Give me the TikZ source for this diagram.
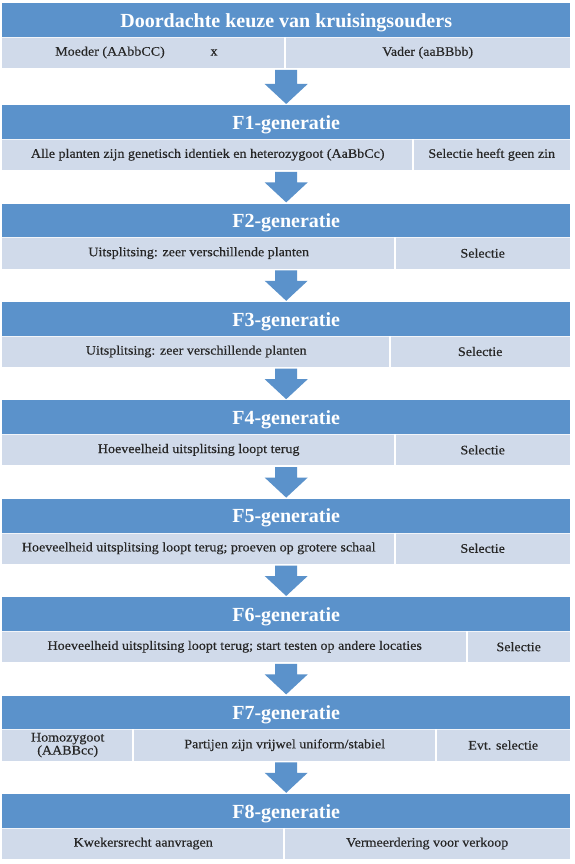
\documentclass[tikz,border=0pt]{standalone}
\usepackage{fontspec}
\setmainfont{Liberation Serif}
\newfontfamily\cellfont{Liberation Serif}[FakeStretch=1.08, FakeBold=0.4]
\usetikzlibrary{calc}
\definecolor{hblue}{RGB}{91,146,203}
\definecolor{lblue}{RGB}{208,218,234}
\definecolor{ctext}{RGB}{38,38,38}
\newcommand\blockarr[2]{%
  \path ($(#1)+(0,1.5)$) coordinate (ba1) ($(#2)+(0,-1)$) coordinate (ba2);
  \fill[hblue] ($(ba1)+(-11,0)$) -- ($(ba1)+(11,0)$) -- ($(ba2)+(11,-20)$) -- ($(ba2)+(21.5,-20)$) -- (ba2) -- ($(ba2)+(-21.5,-20)$) -- ($(ba2)+(-11,-20)$) -- cycle;}
\begin{document}
\begin{tikzpicture}[x=1pt,y=-1pt,
  hdr/.style={fill=hblue, text=white, font=\bfseries\fontsize{20}{22}\selectfont, anchor=north west, minimum width=568pt, minimum height=34pt, inner sep=0pt, text height=15pt, text depth=1pt},
  cell/.style={fill=lblue, text=ctext, font=\cellfont\fontsize{13}{14}\selectfont, anchor=north west, minimum height=31pt, inner sep=0pt, align=center},
  txt/.style={text=ctext, font=\cellfont\fontsize{13}{14}\selectfont, inner sep=0pt},
  sep/.style={draw=white, line width=1.2pt},
  hsep/.style={draw=white!70!lblue, line width=0.8pt}]
\useasboundingbox[fill=white] (0,0) rectangle (574,864);

% Block 0
\node[hdr] (h0) at (2,3) {Doordachte keuze van kruisingsouders};
\node[cell, minimum width=283pt] (s0a) at (2,37) {};
\node[cell, minimum width=285pt] (s0b) at (285,37) {Vader (aaBBbb)};
\node[txt] (t0m) at (110,52.5) {Moeder (AAbbCC)};
\node[txt] (t0x) at (214,52.5) {x};
\draw[hsep] (h0.south west) -- (h0.south east);
\draw[sep] (s0b.north west) -- (s0b.south west);

% Block 1
\node[hdr] (h1) at (2,105) {F1-generatie};
\node[cell, minimum width=411pt] (s1a) at (2,139) {Alle planten zijn genetisch identiek en heterozygoot (AaBbCc)};
\node[cell, minimum width=157pt] (s1b) at (413,139) {Selectie heeft geen zin};
\draw[hsep] (h1.south west) -- (h1.south east);
\draw[sep] (s1b.north west) -- (s1b.south west);

% Block 2
\node[hdr] (h2) at (2,203.4) {F2-generatie};
\node[cell, minimum width=393pt] (s2a) at (2,237.4) {Uitsplitsing: zeer verschillende planten};
\node[cell, minimum width=175pt] (s2b) at (395,237.4) {Selectie};
\draw[hsep] (h2.south west) -- (h2.south east);
\draw[sep] (s2b.north west) -- (s2b.south west);

% Block 3
\node[hdr] (h3) at (2,301.8) {F3-generatie};
\node[cell, minimum width=388pt] (s3a) at (2,335.8) {Uitsplitsing: zeer verschillende planten};
\node[cell, minimum width=180pt] (s3b) at (390,335.8) {Selectie};
\draw[hsep] (h3.south west) -- (h3.south east);
\draw[sep] (s3b.north west) -- (s3b.south west);

% Block 4
\node[hdr] (h4) at (2,400.2) {F4-generatie};
\node[cell, minimum width=393pt] (s4a) at (2,434.2) {Hoeveelheid uitsplitsing loopt terug};
\node[cell, minimum width=175pt] (s4b) at (395,434.2) {Selectie};
\draw[hsep] (h4.south west) -- (h4.south east);
\draw[sep] (s4b.north west) -- (s4b.south west);

% Block 5
\node[hdr] (h5) at (2,498.6) {F5-generatie};
\node[cell, minimum width=393pt] (s5a) at (2,532.6) {Hoeveelheid uitsplitsing loopt terug; proeven op grotere schaal};
\node[cell, minimum width=175pt] (s5b) at (395,532.6) {Selectie};
\draw[hsep] (h5.south west) -- (h5.south east);
\draw[sep] (s5b.north west) -- (s5b.south west);

% Block 6
\node[hdr] (h6) at (2,597) {F6-generatie};
\node[cell, minimum width=465pt] (s6a) at (2,631) {Hoeveelheid uitsplitsing loopt terug; start testen op andere locaties};
\node[cell, minimum width=103pt] (s6b) at (467,631) {Selectie};
\draw[hsep] (h6.south west) -- (h6.south east);
\draw[sep] (s6b.north west) -- (s6b.south west);

% Block 7
\node[hdr] (h7) at (2,695.4) {F7-generatie};
\node[cell, minimum width=131pt] (s7a) at (2,729.4) {Homozygoot\\[-1pt](AABBcc)};
\node[cell, minimum width=303pt] (s7b) at (133,729.4) {Partijen zijn vrijwel uniform/stabiel};
\node[cell, minimum width=134pt] (s7c) at (436,729.4) {Evt. selectie};
\draw[hsep] (h7.south west) -- (h7.south east);
\draw[sep] (s7b.north west) -- (s7b.south west);
\draw[sep] (s7c.north west) -- (s7c.south west);

% Block 8
\node[hdr] (h8) at (2,793.8) {F8-generatie};
\node[cell, minimum width=282pt] (s8a) at (2,827.8) {Kwekersrecht aanvragen};
\node[cell, minimum width=286pt] (s8b) at (284,827.8) {Vermeerdering voor verkoop};
\draw[hsep] (h8.south west) -- (h8.south east);
\draw[sep] (s8b.north west) -- (s8b.south west);

% Arrows
\blockarr{h0.south |- s0a.south}{h1.north}
\blockarr{h1.south |- s1a.south}{h2.north}
\blockarr{h2.south |- s2a.south}{h3.north}
\blockarr{h3.south |- s3a.south}{h4.north}
\blockarr{h4.south |- s4a.south}{h5.north}
\blockarr{h5.south |- s5a.south}{h6.north}
\blockarr{h6.south |- s6a.south}{h7.north}
\blockarr{h7.south |- s7a.south}{h8.north}
\end{tikzpicture}
\end{document}
